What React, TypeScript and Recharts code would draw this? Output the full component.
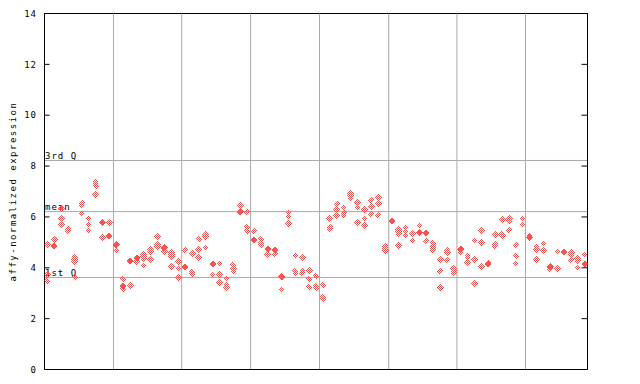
import React from 'react';
import { ScatterChart, Scatter, XAxis, YAxis, CartesianGrid, ReferenceLine } from 'recharts';

// Per-sample (column) expression values: open (checkered) diamonds
const hollowValues: number[][] = [
  [4.92, 3.74, 3.47], [5.11], [6.33, 5.93, 5.70], [5.54, 5.46], [4.42, 4.33, 4.24, 3.63],
  [6.54, 6.45, 6.13], [5.93, 5.70, 5.46], [7.40, 7.31, 7.22, 6.88], [5.19], [5.78],
  [4.68], [3.55, 3.16], [3.30], [4.25], [4.53, 4.44, 4.35, 4.09],
  [4.73, 4.64, 4.33], [5.23, 4.92, 4.83], [4.63], [4.61, 4.52, 4.43, 4.05], [4.26, 3.97, 3.62],
  [4.69], [4.56, 3.83, 3.74], [5.15, 4.72, 4.40], [5.32, 5.23, 4.80], [3.74],
  [4.17, 3.74, 3.42], [3.58, 3.33, 3.24], [4.10, 3.97, 3.86], [6.46], [6.19, 5.60, 5.43],
  [5.44], [5.15, 4.99, 4.89], [4.52], [4.54], [3.15],
  [6.18, 6.01, 5.75], [4.48, 3.87, 3.78], [4.40, 3.89, 3.80], [3.89, 3.55, 3.23], [3.69, 3.27, 3.19],
  [3.34, 2.86, 2.77], [5.94, 5.61, 5.53], [6.50, 6.29, 6.07], [6.37, 6.15, 6.06], [6.92, 6.83, 6.73],
  [6.57, 6.38, 5.79], [6.29, 5.94, 5.67], [6.68, 6.41, 6.11], [6.76, 6.53, 6.07], [4.86, 4.77, 4.68],
  [], [5.52, 5.43, 5.33, 4.87], [5.58, 5.42, 5.26], [5.37, 5.30, 5.08], [5.67],
  [5.05], [4.96, 4.87, 4.78, 4.69], [4.33, 3.86, 3.23], [4.69, 4.60, 4.29], [3.97, 3.88, 3.79],
  [4.60], [4.49, 4.40, 4.21], [5.08, 4.32, 3.38], [5.47, 4.99, 4.05], [4.21],
  [5.31, 4.95, 4.87], [5.90, 5.34, 5.27], [5.94, 5.84, 5.47], [4.88, 4.48, 4.17], [5.94, 5.70],
  [5.28], [4.83, 4.74, 4.32], [4.96, 4.68], [3.96], [4.64, 3.97],
  [], [4.60, 4.51, 4.30], [4.36, 4.27, 4.01], [4.52],
];

// Per-sample (column) expression values: solid diamonds
const solidValues: number[][] = [
  [], [4.85], [], [], [],
  [], [], [], [5.77], [5.25],
  [4.91], [3.28], [4.27], [4.39], [],
  [], [], [4.78], [], [],
  [4.04], [], [], [], [4.15],
  [], [], [], [6.20], [],
  [5.09], [], [4.74], [4.70], [3.64],
  [], [], [], [], [],
  [], [], [], [], [],
  [], [], [], [], [],
  [5.84], [], [], [], [5.39],
  [5.37], [], [], [], [],
  [4.73], [], [], [], [4.15],
  [], [], [], [], [],
  [5.19], [], [], [4.04], [],
  [4.63], [], [], [4.15],
];

const yTicks = [0, 2, 4, 6, 8, 10, 12, 14];
const gridTicks = [9.6, 19.5, 29.5, 39.5, 49.55, 59.45, 69.4];
const thirdQuartile = 8.22;
const meanValue = 6.21;
const firstQuartile = 3.62;
const yTitle = 'affy-normalized expression';

const hollowPoints = hollowValues.flatMap((vals, i) => vals.map((v) => ({ x: i, y: v })));
const solidPoints = solidValues.flatMap((vals, i) => vals.map((v) => ({ x: i, y: v })));

const RED = '#ff5050';
const FONT = 'DejaVu Sans Mono';

const diamondPath = (cx: number, cy: number, r: number) =>
  `M${cx},${cy - r}L${cx + r},${cy}L${cx},${cy + r}L${cx - r},${cy}Z`;

const HollowDiamond = (p: any) => (
  <path d={diamondPath(p.cx, p.cy, 3.6)} fill="url(#chk)" shapeRendering="crispEdges" />
);
const SolidDiamond = (p: any) => (
  <path d={diamondPath(p.cx, p.cy, 3.6)} fill={RED} shapeRendering="crispEdges" />
);

const lineLabel = (text: string) => (props: any) => {
  const vb = props.viewBox || {};
  return (
    <text x={vb.x + 0.5} y={vb.y - 1.5} fontFamily={FONT} fontSize={9} letterSpacing={1} fill="#000">
      {text}
    </text>
  );
};

const yTitleLabel = (props: any) => {
  const vb = props.viewBox || {};
  const cy = vb.y + vb.height / 2;
  const x = 7.5;
  return (
    <text
      x={x}
      y={cy}
      transform={`rotate(-90, ${x}, ${cy})`}
      textAnchor="middle"
      fontFamily={FONT}
      fontSize={9}
      letterSpacing={1.5}
      fill="#000"
    >
      {yTitle}
    </text>
  );
};

export default function App() {
  return (
    <div style={{ width: 624, height: 368, position: 'relative' }}>
      <svg width={0} height={0} style={{ position: 'absolute' }}>
        <defs>
          <pattern id="chk" width={2} height={2} patternUnits="userSpaceOnUse">
            <rect x={0} y={0} width={1} height={1} fill={RED} />
            <rect x={1} y={1} width={1} height={1} fill={RED} />
          </pattern>
        </defs>
      </svg>
      <ScatterChart width={624} height={368} margin={{ top: 5.5, right: 0, bottom: 0, left: 0 }}>
        <CartesianGrid yAxisId="left" horizontal={false} vertical verticalPoints={undefined} stroke="#aaaaaa" strokeWidth={1} />
        <XAxis
          type="number"
          dataKey="x"
          domain={[-0.41, 78.4]}
          allowDataOverflow
          ticks={gridTicks}
          interval={0}
          tick={false}
          tickLine={false}
          axisLine={{ stroke: '#000' }}
          height={6.5}
        />
        <YAxis
          yAxisId="left"
          type="number"
          dataKey="y"
          domain={[0, 14]}
          allowDataOverflow
          ticks={yTicks}
          interval={0}
          width={36.5}
          tickSize={-5}
          tickMargin={12.5}
          axisLine={{ stroke: '#000' }}
          tickLine={{ stroke: '#000' }}
          tick={{ fill: '#000', fontSize: 9, fontFamily: FONT, letterSpacing: 1 }}
          label={yTitleLabel}
        />
        <YAxis
          yAxisId="right"
          orientation="right"
          type="number"
          domain={[0, 14]}
          allowDataOverflow
          ticks={yTicks}
          interval={0}
          width={44.5}
          tickSize={-6}
          axisLine={{ stroke: '#000' }}
          tickLine={{ stroke: '#000' }}
          tick={() => <g />}
        />
        <ReferenceLine yAxisId="left" y={14} stroke="#000" strokeWidth={1} />
        <ReferenceLine yAxisId="left" y={thirdQuartile} stroke="#aaaaaa" strokeWidth={1} label={lineLabel('3rd Q')} />
        <ReferenceLine yAxisId="left" y={meanValue} stroke="#aaaaaa" strokeWidth={1} label={lineLabel('mean')} />
        <ReferenceLine yAxisId="left" y={firstQuartile} stroke="#aaaaaa" strokeWidth={1} label={lineLabel('1st Q')} />
        {gridTicks.map((t) => (
          <ReferenceLine key={t} yAxisId="left" x={t} stroke="#aaaaaa" strokeWidth={1} />
        ))}
        <Scatter yAxisId="left" data={hollowPoints} shape={HollowDiamond} isAnimationActive={false} />
        <Scatter yAxisId="left" data={solidPoints} shape={SolidDiamond} isAnimationActive={false} />
      </ScatterChart>
    </div>
  );
}
